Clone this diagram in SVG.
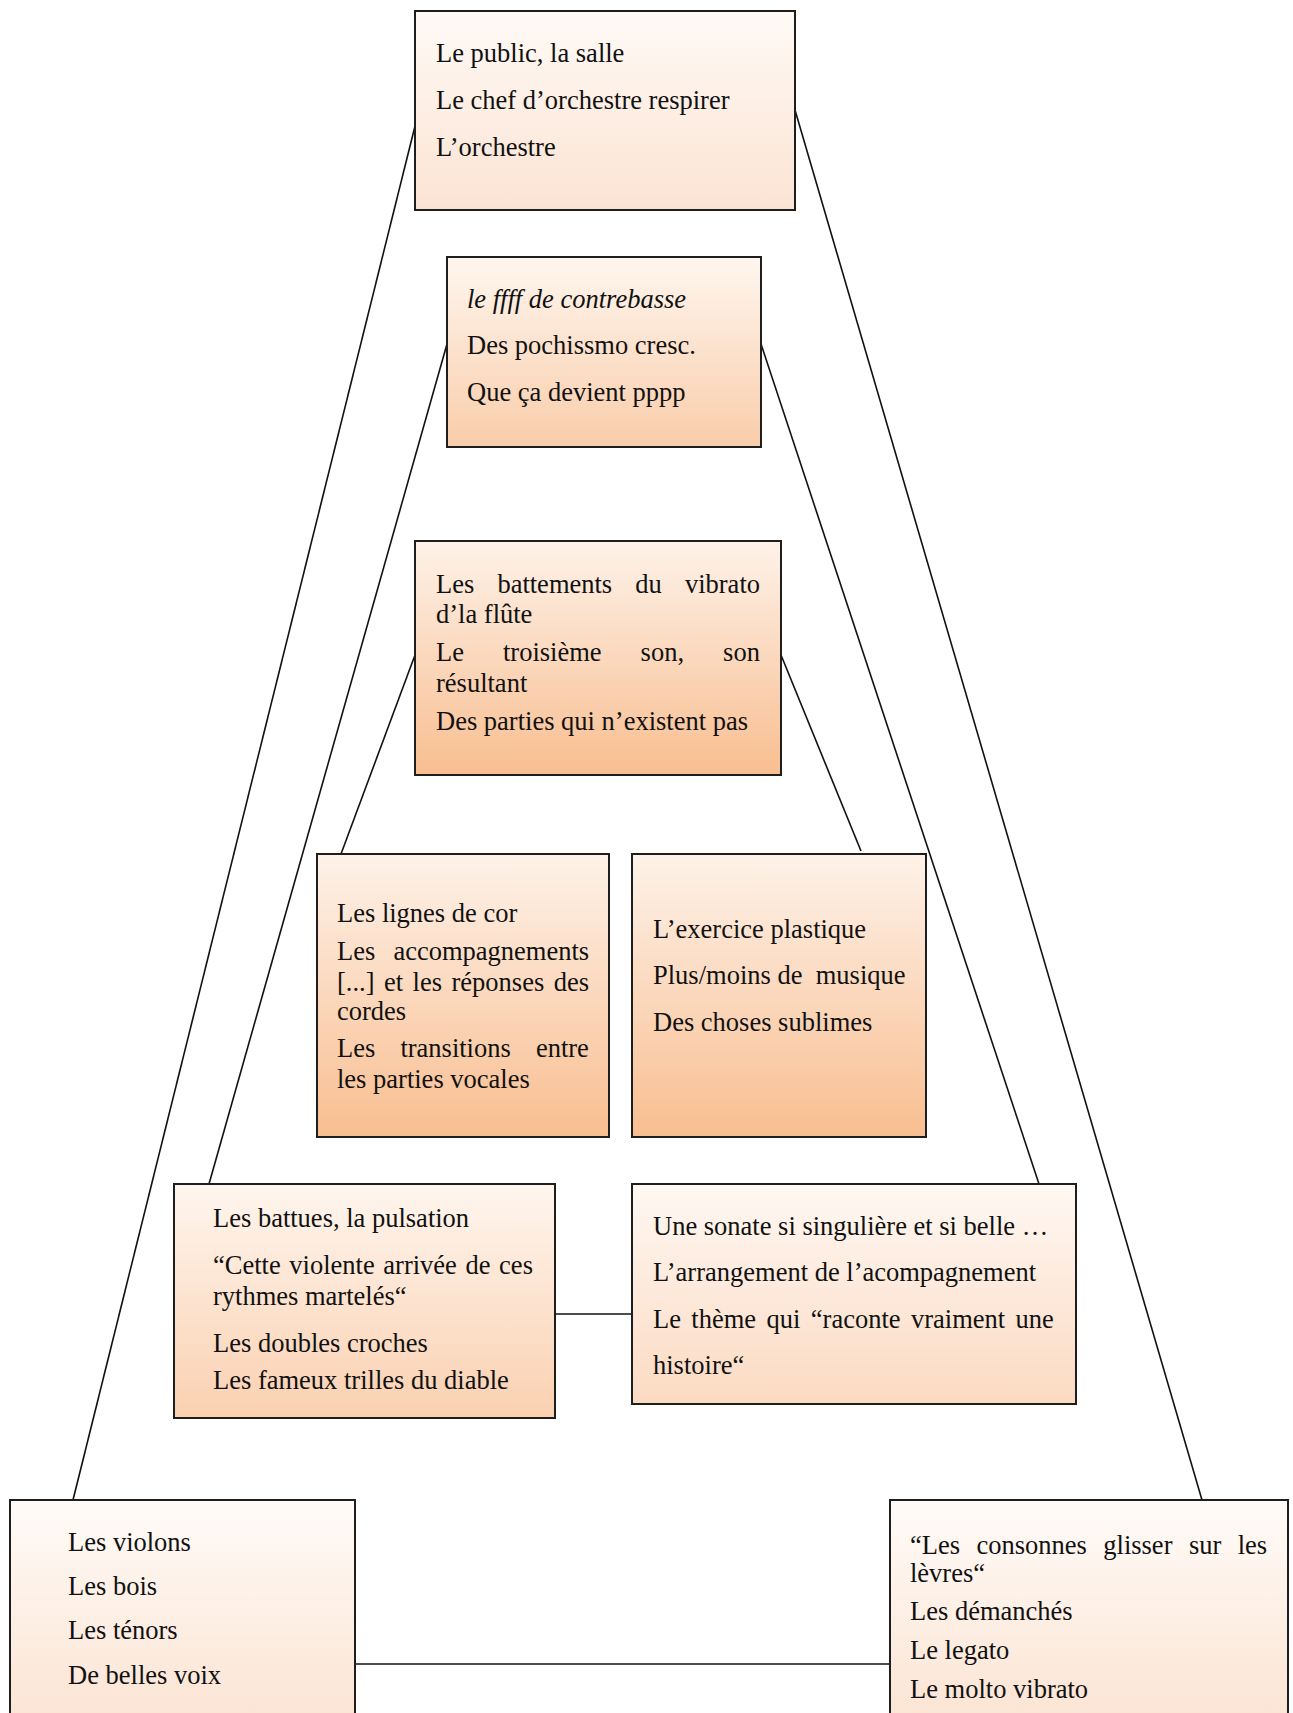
<svg xmlns="http://www.w3.org/2000/svg" width="1293" height="1713" viewBox="0 0 1293 1713">
<style>
.box{stroke:#1e1e1e;stroke-width:2}
.t{font-family:"Liberation Serif","Times New Roman",serif;font-size:26.5px;fill:#111;white-space:pre}
.i{font-style:italic}
.c{stroke:#111;stroke-width:1.6;fill:none}
</style>
<defs>
<linearGradient id="g1" x1="0" y1="0" x2="0" y2="1"><stop offset="0" stop-color="#fffaf6"/><stop offset="1" stop-color="#fbe3d3"/></linearGradient>
<linearGradient id="g2" x1="0" y1="0" x2="0" y2="1"><stop offset="0" stop-color="#fff6ef"/><stop offset="1" stop-color="#f9cdaa"/></linearGradient>
<linearGradient id="g3" x1="0" y1="0" x2="0" y2="1"><stop offset="0" stop-color="#fef2e9"/><stop offset="1" stop-color="#f8be90"/></linearGradient>
<linearGradient id="g6" x1="0" y1="0" x2="0" y2="1"><stop offset="0" stop-color="#fff6ef"/><stop offset="1" stop-color="#fad0b0"/></linearGradient>
<linearGradient id="g7" x1="0" y1="0" x2="0" y2="1"><stop offset="0" stop-color="#fff8f3"/><stop offset="1" stop-color="#fbdac2"/></linearGradient>
<linearGradient id="g8" x1="0" y1="0" x2="0" y2="1"><stop offset="0" stop-color="#fffbf8"/><stop offset="1" stop-color="#fbe2d0"/></linearGradient>
</defs>
<rect width="1293" height="1713" fill="#ffffff"/>
<g id="connectors">
<line class="c" x1="73" y1="1500" x2="415" y2="126"/>
<line class="c" x1="795" y1="110" x2="1202" y2="1500"/>
<line class="c" x1="209" y1="1184" x2="447" y2="344"/>
<line class="c" x1="761" y1="344" x2="1039" y2="1184"/>
<line class="c" x1="341" y1="854" x2="415" y2="655"/>
<line class="c" x1="781" y1="655" x2="861" y2="851"/>
<line class="c" x1="555" y1="1314" x2="632" y2="1314"/>
<line class="c" x1="355" y1="1664" x2="890" y2="1664"/>
</g>
<g id="node1">
<rect class="box" x="415" y="11" width="380" height="199" fill="url(#g1)"/>
<text class="t" x="436" y="62">Le public, la salle</text>
<text class="t" x="436" y="109">Le chef d’orchestre respirer</text>
<text class="t" x="436" y="156">L’orchestre</text>
</g>
<g id="node2">
<rect class="box" x="447" y="257" width="314" height="190" fill="url(#g2)"/>
<text class="t i" x="467" y="308">le ffff de contrebasse</text>
<text class="t" x="467" y="354">Des pochissmo cresc.</text>
<text class="t" x="467" y="401">Que ça devient pppp</text>
</g>
<g id="node3">
<rect class="box" x="415" y="541" width="366" height="234" fill="url(#g3)"/>
<text class="t" x="436" y="593" word-spacing="16.5">Les battements du vibrato</text>
<text class="t" x="436" y="623">d’la flûte</text>
<text class="t" x="436" y="661" word-spacing="32.4">Le troisième son, son</text>
<text class="t" x="436" y="692">résultant</text>
<text class="t" x="436" y="730">Des parties qui n’existent pas</text>
</g>
<g id="node4">
<rect class="box" x="317" y="854" width="292" height="283" fill="url(#g3)"/>
<text class="t" x="337" y="922">Les lignes de cor</text>
<text class="t" x="337" y="960" word-spacing="11.5">Les accompagnements</text>
<text class="t" x="337" y="991" word-spacing="2.85">[...] et les réponses des</text>
<text class="t" x="337" y="1020">cordes</text>
<text class="t" x="337" y="1057" word-spacing="18.5">Les transitions entre</text>
<text class="t" x="337" y="1088">les parties vocales</text>
</g>
<g id="node5">
<rect class="box" x="632" y="854" width="294" height="283" fill="url(#g3)"/>
<text class="t" x="653" y="938">L’exercice plastique</text>
<text class="t" x="653" y="984">Plus/moins de  musique</text>
<text class="t" x="653" y="1031">Des choses sublimes</text>
</g>
<g id="node6">
<rect class="box" x="174" y="1184" width="381" height="234" fill="url(#g6)"/>
<text class="t" x="213" y="1227">Les battues, la pulsation</text>
<text class="t" x="213" y="1274" word-spacing="2">“Cette violente arrivée de ces</text>
<text class="t" x="213" y="1305">rythmes martelés“</text>
<text class="t" x="213" y="1352">Les doubles croches</text>
<text class="t" x="213" y="1389">Les fameux trilles du diable</text>
</g>
<g id="node7">
<rect class="box" x="632" y="1184" width="444" height="220" fill="url(#g7)"/>
<text class="t" x="653" y="1235">Une sonate si singulière et si belle …</text>
<text class="t" x="653" y="1281">L’arrangement de l’acompagnement</text>
<text class="t" x="653" y="1328" word-spacing="3.8">Le thème qui “raconte vraiment une</text>
<text class="t" x="653" y="1374">histoire“</text>
</g>
<g id="node8">
<rect class="box" x="10" y="1500" width="345" height="240" fill="url(#g8)"/>
<text class="t" x="68" y="1551">Les violons</text>
<text class="t" x="68" y="1595">Les bois</text>
<text class="t" x="68" y="1639">Les ténors</text>
<text class="t" x="68" y="1684">De belles voix</text>
</g>
<g id="node9">
<rect class="box" x="890" y="1500" width="398" height="240" fill="url(#g8)"/>
<text class="t" x="910" y="1554" word-spacing="9.8">“Les consonnes glisser sur les</text>
<text class="t" x="910" y="1582">lèvres“</text>
<text class="t" x="910" y="1620">Les démanchés</text>
<text class="t" x="910" y="1659">Le legato</text>
<text class="t" x="910" y="1698">Le molto vibrato</text>
</g>
</svg>
